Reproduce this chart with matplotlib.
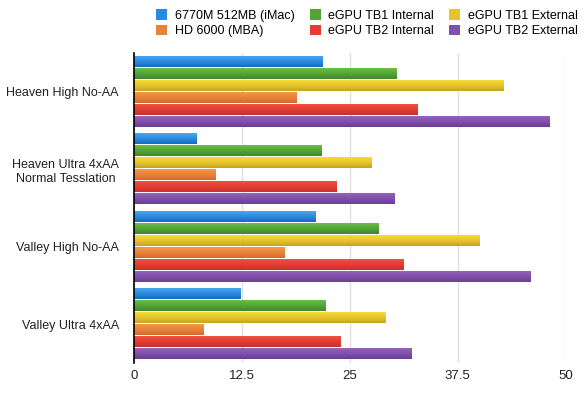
import matplotlib
matplotlib.use('Agg')
import matplotlib.pyplot as plt
from matplotlib.colors import LinearSegmentedColormap
from matplotlib.patches import Patch
import numpy as np

plt.rcParams['font.family'] = ['Liberation Sans', 'DejaVu Sans']

categories = ['Heaven High No-AA', 'Heaven Ultra 4xAA\nNormal Tesslation',
              'Valley High No-AA', 'Valley Ultra 4xAA']

# series in the order the bars are stacked inside each group (top to bottom)
series_names = ['6770M 512MB (iMac)', 'eGPU TB1 Internal', 'eGPU TB1 External',
                'HD 6000 (MBA)', 'eGPU TB2 Internal', 'eGPU TB2 External']
imac_6770m = [21.9, 7.3, 21.1, 12.4]
tb1_internal = [30.5, 21.7, 28.3, 22.2]
tb1_external = [42.8, 27.6, 40.1, 29.2]
hd6000_mba = [18.9, 9.4, 17.4, 8.1]
tb2_internal = [32.9, 23.5, 31.3, 24.0]
tb2_external = [48.2, 30.2, 46.0, 32.2]
series_values = [imac_6770m, tb1_internal, tb1_external,
                 hd6000_mba, tb2_internal, tb2_external]

# (light top, mid, dark bottom)
series_colors = [('#4aa8f2', '#2b8ae0', '#176ac4'),
                 ('#6cbf48', '#54a338', '#3f8a2a'),
                 ('#f5dc3a', '#e6c52c', '#c9a222'),
                 ('#f29a48', '#e8823a', '#d66a28'),
                 ('#f0503e', '#e23e34', '#c8302a'),
                 ('#9464bc', '#8050aa', '#6c3e96')]

xticks = [0, 12.5, 25, 37.5, 50]
xtick_labels = ['0', '12.5', '25', '37.5', '50']

fig = plt.figure(figsize=(5.85, 3.96), dpi=100)
ax = fig.add_axes([0.2295, 0.0833, 0.737, 0.783])

y = np.arange(len(categories))
pitch = 0.155
bar_h = 0.13
grad = np.linspace(0, 1, 64).reshape(-1, 1)

for j, (name, vals, cols) in enumerate(zip(series_names, series_values, series_colors)):
    offs = y + (j - 2.5) * pitch
    bars = ax.barh(offs, vals, height=bar_h, color=cols[1], zorder=2, label=name)
    cmap = LinearSegmentedColormap.from_list(name, list(cols))
    for p in bars:
        x0, y0, w, h = p.get_x(), p.get_y(), p.get_width(), p.get_height()
        ax.imshow(grad, extent=[x0, x0 + w, y0 + h, y0], aspect='auto',
                  cmap=cmap, origin='upper', zorder=3, interpolation='bilinear')

ax.set_xlim(0, 50)
ax.set_ylim(len(categories) - 0.5, -0.5)
ax.set_yticks(y)
ax.set_yticklabels(categories, fontsize=9, color='#222222', multialignment='center')
ax.set_xticks(xticks)
ax.set_xticklabels(xtick_labels, fontsize=9.5, color='#222222')
ax.tick_params(axis='both', length=0)
ax.tick_params(axis='y', pad=11)
ax.tick_params(axis='x', pad=5)

ax.grid(axis='x', color='#e0e0e0', linewidth=1, zorder=0)
ax.set_axisbelow(True)
for s in ['top', 'right', 'bottom']:
    ax.spines[s].set_visible(False)
ax.spines['left'].set_color('black')
ax.spines['left'].set_linewidth(1.2)
ax.spines['left'].set_zorder(5)

# legend is read row by row, matplotlib fills columns first
order = [0, 3, 1, 4, 2, 5]
handles = [Patch(facecolor=series_colors[i][1], label=series_names[i]) for i in order]
fig.legend(handles=handles, ncol=3, loc='upper right', bbox_to_anchor=(1.007, 1.005),
           frameon=False, fontsize=9, handlelength=0.9, handleheight=0.9,
           handletextpad=0.6, columnspacing=1.2, labelspacing=0.25)

fig.savefig('out.png', dpi=100)
